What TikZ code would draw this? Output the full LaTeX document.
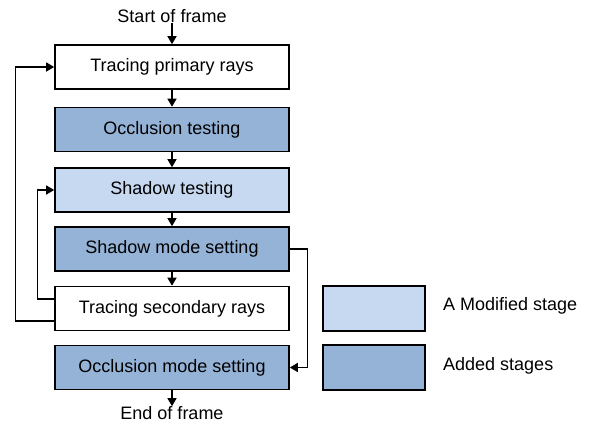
\documentclass[tikz,border=0pt]{standalone}
\usepackage{fontspec}
\setmainfont{Liberation Sans}
\usetikzlibrary{arrows.meta}
\definecolor{added}{HTML}{95B3D7}
\definecolor{modified}{HTML}{C6D9F1}
\tikzset{
  stagebox/.style={draw=black, line width=1.6pt, minimum width=234pt, minimum height=44pt, inner sep=0pt, font=\fontsize{18}{20}\selectfont},
  legbox/.style={draw=black, line width=1.6pt, minimum width=102pt, minimum height=45pt, inner sep=0pt},
  lbl/.style={inner sep=0pt, font=\fontsize{18}{20}\selectfont},
  arr/.style={line width=1.3pt, -{Triangle[length=8pt,width=9pt]}},
}
\begin{document}
\begin{tikzpicture}[x=1pt,y=-1pt]
\useasboundingbox (0,0) rectangle (595,426);
\node[lbl] (start) at (172,16) {Start of frame};
\node[stagebox, fill=white] (b1) at (172,67) {Tracing primary rays};
\node[stagebox, fill=added] (b2) at (172,129.5) {Occlusion testing};
\node[stagebox, fill=modified] (b3) at (172,190) {Shadow testing};
\node[stagebox, fill=added] (b4) at (172,249) {Shadow mode setting};
\node[stagebox, fill=white] (b5) at (172,308.5) {Tracing secondary rays};
\node[stagebox, fill=added] (b6) at (172,367.5) {Occlusion mode setting};
\node[lbl] (end) at (172,413) {End of frame};
\node[legbox, fill=modified] (l1) at (374,308.5) {};
\node[legbox, fill=added] (l2) at (374,367.5) {};
\node[lbl, anchor=west] (t1) at (443,306) {A Modified stage};
\node[lbl, anchor=west] (t2) at (443,366) {Added stages};
\draw[arr] (start.south) -- (b1.north);
\draw[arr] (b1.south) -- (b2.north);
\draw[arr] (b2.south) -- (b3.north);
\draw[arr] (b3.south) -- (b4.north);
\draw[arr] (b4.south) -- (b5.north);
\draw[arr] (b6.south) -- (end.north);
\draw[arr] ([yshift=-12.5pt]b5.west) -- ++(-39,0) |- (b1.west);
\draw[arr] ([yshift=9.5pt]b5.west) -- ++(-17,0) |- (b3.west);
\draw[arr] (b4.east) -- ++(18,0) |- (b6.east);
\end{tikzpicture}
\end{document}
